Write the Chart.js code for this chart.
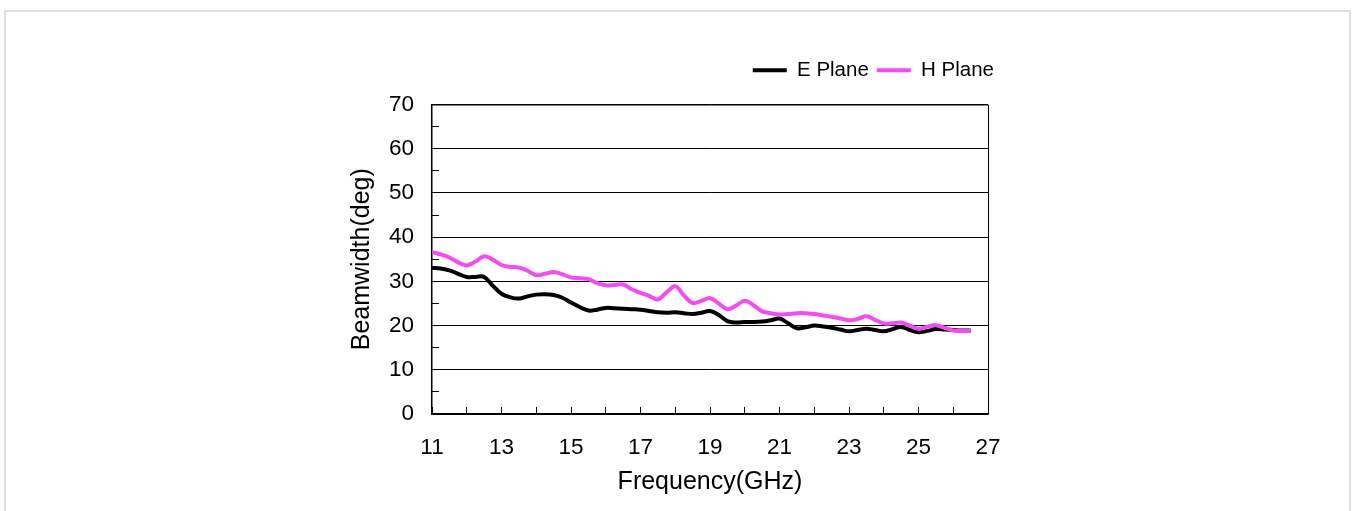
<!DOCTYPE html>
<html>
<head>
<meta charset="utf-8">
<script src="https://cdn.jsdelivr.net/npm/chart.js@4"></script>
<style>
  html, body { margin: 0; padding: 0; background: #fff; }
  #wrap { position: relative; width: 1357px; height: 511px; overflow: hidden; }
  #frame { position: absolute; left: 4px; top: 10px; width: 1343px; height: 520px;
           border-left: 2px solid #e0e0e0; border-top: 2px solid #e0e0e0; border-right: 2px solid #e0e0e0; }
  canvas { position: absolute; left: 0; top: 0; }
</style>
</head>
<body>
<div id="wrap">
  <div id="frame"></div>
  <canvas id="c" width="1357" height="511"></canvas>
</div>
<script>
const frequencies = [11.0, 11.25, 11.5, 11.75, 12.0, 12.25, 12.5, 12.75, 13.0, 13.25, 13.5, 13.75,
  14.0, 14.25, 14.5, 14.75, 15.0, 15.25, 15.5, 15.75, 16.0, 16.25, 16.5, 16.75,
  17.0, 17.25, 17.5, 17.75, 18.0, 18.25, 18.5, 18.75, 19.0, 19.25, 19.5, 19.75,
  20.0, 20.25, 20.5, 20.75, 21.0, 21.25, 21.5, 21.75, 22.0, 22.25, 22.5, 22.75,
  23.0, 23.25, 23.5, 23.75, 24.0, 24.25, 24.5, 24.75, 25.0, 25.25, 25.5, 25.75,
  26.0, 26.25, 26.5];

const ePlane = [33.1, 32.9, 32.5, 31.7, 31.0, 31.0, 31.0, 29.0, 27.2, 26.4, 26.1, 26.6,
  27.0, 27.1, 26.9, 26.3, 25.2, 24.2, 23.4, 23.6, 24.0, 23.9, 23.8, 23.7,
  23.6, 23.3, 23.0, 22.9, 23.0, 22.8, 22.6, 22.9, 23.3, 22.4, 21.0, 20.7,
  20.8, 20.8, 20.9, 21.2, 21.6, 20.5, 19.4, 19.6, 20.0, 19.8, 19.5, 19.1,
  18.7, 19.0, 19.3, 19.0, 18.7, 19.2, 19.7, 19.0, 18.5, 18.8, 19.2, 19.1,
  19.0, 18.9, 18.9];

const hPlane = [36.6, 36.1, 35.4, 34.3, 33.6, 34.5, 35.7, 34.9, 33.7, 33.3, 33.1, 32.4,
  31.4, 31.7, 32.1, 31.6, 30.9, 30.7, 30.5, 29.6, 29.1, 29.2, 29.3, 28.2,
  27.4, 26.7, 25.9, 27.5, 28.9, 26.8, 25.1, 25.6, 26.2, 25.0, 23.7, 24.5,
  25.6, 24.6, 23.2, 22.8, 22.5, 22.6, 22.8, 22.8, 22.6, 22.3, 22.0, 21.6,
  21.2, 21.5, 22.1, 21.3, 20.5, 20.5, 20.7, 20.0, 19.3, 19.7, 20.1, 19.5,
  18.9, 18.8, 18.8];

const seriesNames = ['E Plane', 'H Plane'];
const xTickLabels = [11, 13, 15, 17, 19, 21, 23, 25, 27];
const yTickLabels = [0, 10, 20, 30, 40, 50, 60, 70];
const xTitle = 'Frequency(GHz)';
const yTitle = 'Beamwidth(deg)';

const FONT = "'Liberation Sans', Arial, sans-serif";

const toPoints = (vals) => vals.map((v, i) => ({ x: frequencies[i], y: v }));

const frameBorder = {
  id: 'frameBorder',
  beforeDatasetsDraw(chart) {
    const { ctx, chartArea: a } = chart;
    ctx.save();
    ctx.strokeStyle = '#000';
    ctx.lineWidth = 1;
    ctx.beginPath();
    ctx.moveTo(a.left, a.top + 0.5);
    ctx.lineTo(a.right + 0.5, a.top + 0.5);
    ctx.lineTo(a.right + 0.5, a.bottom);
    ctx.stroke();
    ctx.restore();
  }
};

const legendPlace = {
  id: 'legendPlace',
  afterLayout(chart) {
    const lg = chart.legend;
    if (!lg) return;
    const dx = 1002 - lg.right;
    lg.left += dx; lg.right += dx;
    const dy = 52 - lg.top;
    lg.top += dy; lg.bottom += dy;
  }
};

new Chart(document.getElementById('c'), {
  type: 'line',
  data: {
    datasets: [
      { label: seriesNames[0], data: toPoints(ePlane), borderColor: '#000000', backgroundColor: '#000000',
        borderWidth: 4, pointRadius: 0, tension: 0.4, order: 2 },
      { label: seriesNames[1], data: toPoints(hPlane), borderColor: '#f24cf2', backgroundColor: '#f24cf2',
        borderWidth: 4, pointRadius: 0, tension: 0.4, order: 1 }
    ]
  },
  options: {
    responsive: false,
    animation: false,
    devicePixelRatio: 1,
    layout: { padding: { left: 0, right: 369, top: 66, bottom: 0 } },
    plugins: {
      tooltip: { enabled: false },
      legend: {
        position: 'top',
        align: 'end',
        labels: {
          boxWidth: 34,
          boxHeight: 4,
          padding: 8,
          color: '#000',
          font: { family: FONT, size: 20.5 },
          sort: (a, b) => a.datasetIndex - b.datasetIndex,
          generateLabels(chart) {
            const items = Chart.defaults.plugins.legend.labels.generateLabels(chart);
            items.forEach(it => { it.lineWidth = 0; });
            return items;
          }
        }
      }
    },
    scales: {
      x: {
        type: 'linear',
        min: 11, max: 27,
        afterFit(s) { s.height = 97; },
        afterBuildTicks(s) {
          const t = [];
          for (let v = 11; v <= 27; v++) t.push({ value: v });
          s.ticks = t;
        },
        ticks: {
          color: '#000',
          font: { family: FONT, size: 22.5 },
          padding: 27,
          maxRotation: 0,
          autoSkip: false,
          callback: (v) => xTickLabels.includes(v) ? String(v) : ''
        },
        grid: { display: true, drawOnChartArea: false, drawTicks: true, tickLength: -7, tickColor: '#000', tickWidth: 1 },
        border: { display: true, color: '#000', width: 1.5 },
        title: { display: true, text: xTitle, color: '#000', font: { family: FONT, size: 25 }, padding: { top: 0, bottom: 14 } }
      },
      y: {
        min: 0, max: 70,
        afterFit(s) { s.width = 432; },
        afterBuildTicks(s) {
          const t = [];
          for (let v = 0; v <= 70; v += 5) t.push({ value: v });
          s.ticks = t;
        },
        ticks: {
          color: '#000',
          font: { family: FONT, size: 22.5 },
          padding: 25,
          autoSkip: false,
          callback: (v) => yTickLabels.includes(v) ? String(v) : ''
        },
        grid: {
          color: (c) => (c.tick && c.tick.value % 10 === 0) ? '#000' : 'rgba(0,0,0,0)',
          lineWidth: 1,
          drawTicks: true, tickLength: -7, tickColor: '#000', tickWidth: 1
        },
        border: { display: true, color: '#000', width: 1.5 },
        title: { display: true, text: yTitle, color: '#000', font: { family: FONT, size: 25 }, padding: { top: 347, bottom: 0 } }
      }
    }
  },
  plugins: [frameBorder, legendPlace]
});
</script>
</body>
</html>
